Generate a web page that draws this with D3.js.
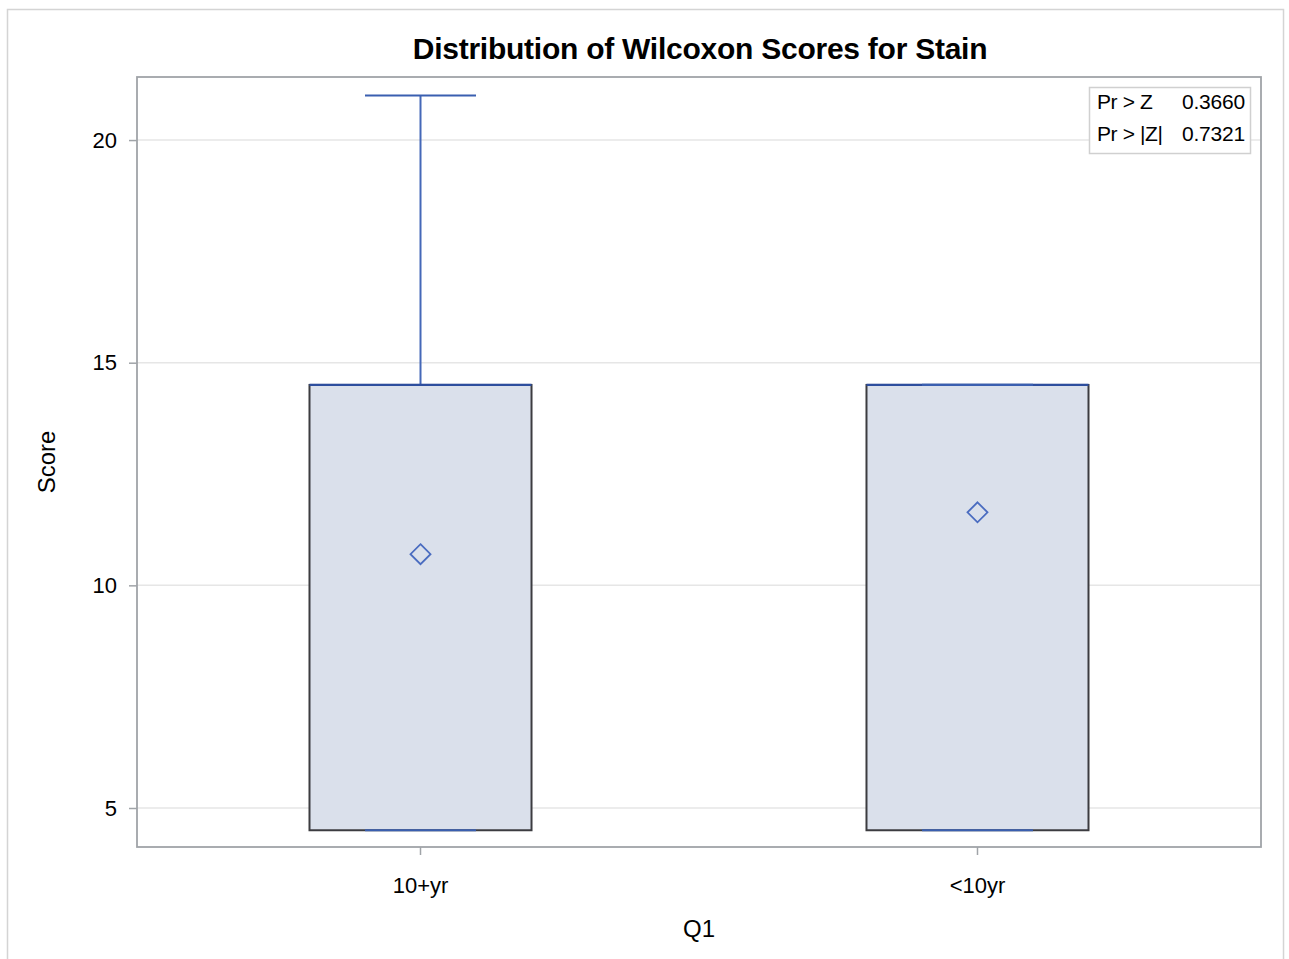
<!DOCTYPE html>
<html><head><meta charset="utf-8">
<script src="https://cdn.jsdelivr.net/npm/d3@7/dist/d3.min.js"></script>
<style>body{margin:0;background:#fff}svg{display:block;font-family:"Liberation Sans",Arial,sans-serif}</style>
</head><body><svg id="c" width="1289" height="959"></svg>
<script>
const categories = ["10+yr", "<10yr"];
const minVals = [4.5, 4.5];
const q1Vals = [4.5, 4.5];
const medianVals = [14.5, 14.5];
const q3Vals = [14.5, 14.5];
const maxVals = [21, 14.5];
const meanVals = [10.7, 11.64];
const yTicks = [5, 10, 15, 20];
const insetLabels = ["Pr > Z", "Pr > |Z|"];
const insetValues = ["0.3660", "0.7321"];

const svg = d3.select("#c");
const L = 137, R = 1261, T = 77, B = 847;
const y = d3.scaleLinear().domain([4.124, 21.416]).range([B, T]);
const x = d3.scaleBand().domain(categories).range([L, R]).paddingInner(0.6014).paddingOuter(0.3097);

// outer border
svg.append("rect").attr("x", 7.5).attr("y", 9.5).attr("width", 1276).attr("height", 960)
  .attr("fill", "none").attr("stroke", "#d4d4d4").attr("stroke-width", 1.5);

// grid
svg.append("g").selectAll("line").data(yTicks).join("line")
  .attr("x1", L).attr("x2", R).attr("y1", d => y(d)).attr("y2", d => y(d))
  .attr("stroke", "#e6e6e6").attr("stroke-width", 1.5);

// axes
const yAxis = svg.append("g").attr("transform", `translate(${L},0)`)
  .call(d3.axisLeft(y).tickValues(yTicks).tickSize(8).tickPadding(12).tickFormat(d3.format("d")));
const xAxis = svg.append("g").attr("transform", `translate(0,${B})`)
  .call(d3.axisBottom(x).tickSize(8).tickPadding(22));
[yAxis, xAxis].forEach(a => {
  a.select(".domain").remove();
  a.selectAll("line").attr("stroke", "#a0a4a8").attr("stroke-width", 1.5);
  a.selectAll("text").attr("fill", "#000").style("font-size", "22px").style("font-family", '"Liberation Sans",Arial,sans-serif');
});

const bw = x.bandwidth();
const capW = bw / 2;
const g = svg.append("g");
categories.forEach((c, i) => {
  const cx = x(c) + bw / 2;
  g.append("line").attr("x1", cx).attr("x2", cx).attr("y1", y(q3Vals[i])).attr("y2", y(maxVals[i]))
    .attr("stroke", "#4468b8").attr("stroke-width", 2);
  g.append("line").attr("x1", cx).attr("x2", cx).attr("y1", y(q1Vals[i])).attr("y2", y(minVals[i]))
    .attr("stroke", "#4468b8").attr("stroke-width", 2);
  g.append("rect").attr("x", x(c)).attr("width", bw).attr("y", y(q3Vals[i]))
    .attr("height", y(q1Vals[i]) - y(q3Vals[i]))
    .attr("fill", "#dae0eb").attr("stroke", "#3c3c40").attr("stroke-width", 2);
  g.append("line").attr("x1", x(c)).attr("x2", x(c) + bw).attr("y1", y(medianVals[i])).attr("y2", y(medianVals[i]))
    .attr("stroke", "#2d4e9e").attr("stroke-width", 2.2);
  [maxVals[i], minVals[i]].forEach(v => {
    g.append("line").attr("x1", cx - capW / 2).attr("x2", cx + capW / 2).attr("y1", y(v)).attr("y2", y(v))
      .attr("stroke", "#3a5fb0").attr("stroke-width", 2.2);
  });
  const my = y(meanVals[i]), s = 10;
  g.append("path").attr("d", `M${cx},${my - s}L${cx + s},${my}L${cx},${my + s}L${cx - s},${my}Z`)
    .attr("fill", "none").attr("stroke", "#4a6cc0").attr("stroke-width", 1.8);
});

// frame
svg.append("rect").attr("x", L).attr("y", T).attr("width", R - L).attr("height", B - T)
  .attr("fill", "none").attr("stroke", "#a0a4a8").attr("stroke-width", 1.8);

// inset
const ins = svg.append("g");
ins.append("rect").attr("x", 1089.5).attr("y", 87.5).attr("width", 161).attr("height", 66)
  .attr("fill", "#fff").attr("stroke", "#d0d0d0").attr("stroke-width", 1.5);
insetLabels.forEach((t, i) => {
  ins.append("text").attr("x", 1097).attr("y", 109 + i * 32).text(t)
    .style("font-size", "21px").style("letter-spacing", "-0.4px");
  ins.append("text").attr("x", 1245).attr("y", 109 + i * 32).attr("text-anchor", "end").text(insetValues[i])
    .style("font-size", "21px").style("letter-spacing", "-0.2px");
});

// title and axis labels
svg.append("text").attr("x", 700).attr("y", 59).attr("text-anchor", "middle")
  .style("font-size", "30px").style("font-weight", "bold").style("letter-spacing", "-0.25px")
  .text("Distribution of Wilcoxon Scores for Stain");
svg.append("text").attr("x", 699).attr("y", 937).attr("text-anchor", "middle")
  .style("font-size", "24px").text("Q1");
svg.append("text").attr("transform", `translate(55,${(T + B) / 2}) rotate(-90)`).attr("text-anchor", "middle")
  .style("font-size", "24px").text("Score");
</script></body></html>
